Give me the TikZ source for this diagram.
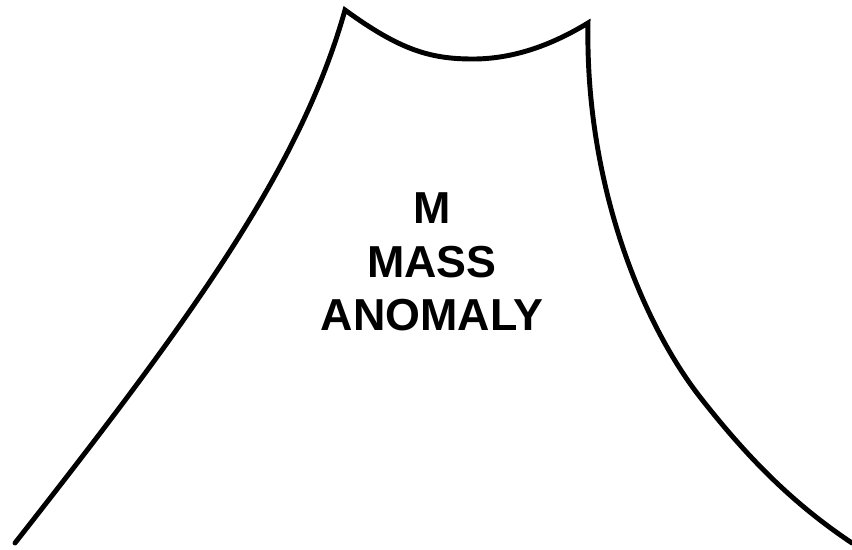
\documentclass[tikz,border=0pt]{standalone}
\usepackage{fontspec}
\setmainfont{Liberation Sans}
\usepackage{tikz}

\begin{document}
\begin{tikzpicture}[x=0.02cm, y=-0.02cm, line width=2.8pt, line cap=round, line join=miter]
\useasboundingbox (0,0) rectangle (852,549);
% Outline of the mass
\coordinate (peakL) at (345,10);
\coordinate (peakR) at (588,23);
\draw (15,543) .. controls (190,320) and (300,170) .. (peakL)
  .. controls (400,50) and (430,59) .. (473,59)
  .. controls (520,59) and (560,40) .. (peakR)
  .. controls (585,180) and (640,320) .. (700,397)
  .. controls (747,457) and (792,503) .. (852,543);
% Label
\node[align=center, font=\fontsize{25.5}{30.6}\selectfont\bfseries] (label) at (432,262) {M\\MASS\\ANOMALY};
\end{tikzpicture}
\end{document}
